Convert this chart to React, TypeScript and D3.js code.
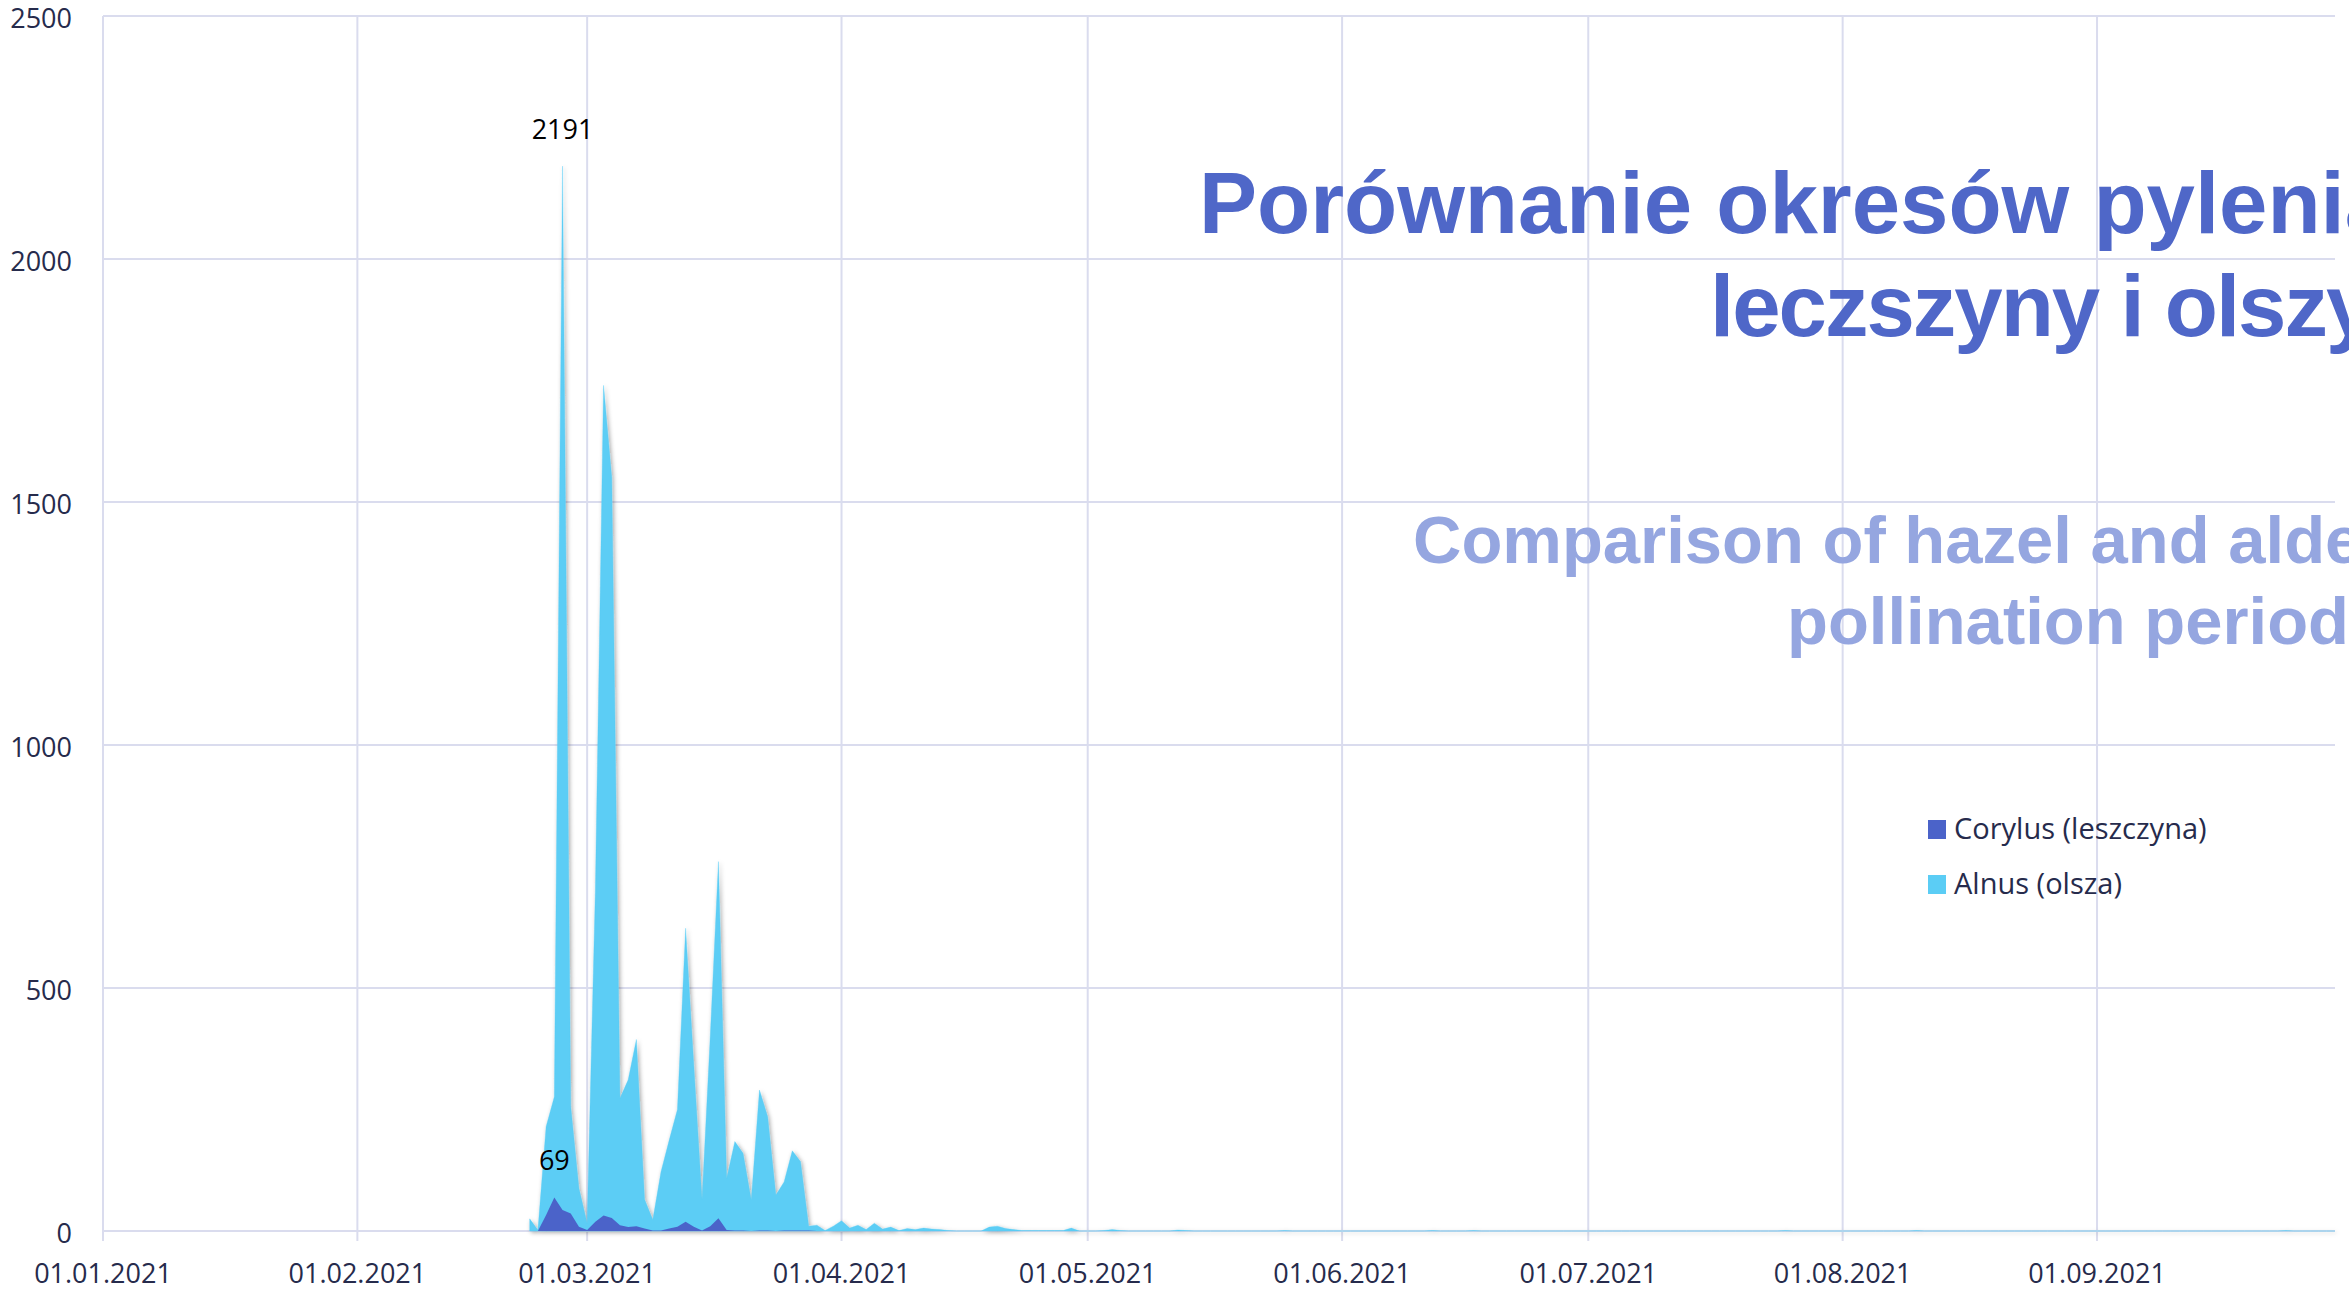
import React from 'react';
import * as d3 from 'd3';

// ---------- data ----------
const seriesStart = '2021-02-22';
const axisStart = '2021-01-01';
const axisEnd = '2021-09-30';

const monthTicks = [
  '2021-01-01', '2021-02-01', '2021-03-01', '2021-04-01', '2021-05-01',
  '2021-06-01', '2021-07-01', '2021-08-01', '2021-09-01',
];
const yTicks = [0, 500, 1000, 1500, 2000, 2500];

// Alnus (olsza) daily values, 22.02 - 30.09
const alnusFeb = [25, 2, 215, 276, 2191, 256, 88];
const alnusMar = [16, 700, 1740, 1550, 273, 311, 394, 65, 23, 122, 187, 250, 623, 340, 64, 400, 760, 108, 184, 160, 64, 290, 235, 74, 101, 165, 143, 10, 12, 1, 10];
const alnusApr = [21, 6, 12, 3, 16, 4, 8, 1, 5, 3, 6, 4, 3, 1, 0, 0, 0, 0, 8, 10, 5, 3, 1, 1, 1, 1, 1, 1, 6, 0];
const alnusMay = [0, 0, 1, 3, 1, 0, 0, 0, 0, 0, 0, 2, 1, 0, 0, 0, 0, 0, 0, 0, 0, 0, 0, 0, 1, 0, 0, 0, 0, 0, 0];
const alnusJun = [0, 0, 0, 0, 0, 0, 0, 0, 0, 0, 0, 1, 0, 0, 0, 0, 1, 0, 0, 0, 0, 0, 0, 0, 0, 0, 0, 0, 0, 0];
const alnusJul = [0, 0, 0, 0, 0, 0, 0, 0, 0, 0, 0, 0, 0, 0, 0, 0, 0, 0, 0, 0, 0, 0, 0, 0, 1, 0, 0, 0, 0, 0, 0];
const alnusAug = [0, 0, 0, 0, 0, 0, 0, 0, 0, 1, 0, 0, 0, 0, 0, 0, 0, 0, 0, 0, 0, 0, 0, 0, 0, 0, 0, 0, 0, 0, 0];
const alnusSep = [0, 0, 0, 0, 0, 0, 0, 0, 0, 0, 0, 0, 0, 0, 0, 0, 0, 0, 0, 0, 0, 0, 0, 1, 0, 0, 0, 0, 0, 0];

// Corylus (leszczyna) daily values, 22.02 - 30.09
const corylusFeb = [0, 0, 33, 69, 43, 36, 9];
const corylusMar = [2, 19, 32, 27, 12, 8, 10, 5, 1, 1, 5, 9, 19, 9, 1, 10, 26, 2, 1, 1, 0, 1, 1, 0, 1, 1, 1, 1, 0, 0, 0];
const corylusApr = [0, 0, 0, 0, 0, 0, 0, 0, 0, 0, 0, 0, 0, 0, 0, 0, 0, 0, 0, 0, 0, 0, 0, 0, 0, 0, 0, 0, 0, 0];
const corylusMay = [0, 0, 0, 0, 0, 0, 0, 0, 0, 0, 0, 0, 0, 0, 0, 0, 0, 0, 0, 0, 0, 0, 0, 0, 0, 0, 0, 0, 0, 0, 0];
const corylusJun = [0, 0, 0, 0, 0, 0, 0, 0, 0, 0, 0, 0, 0, 0, 0, 0, 0, 0, 0, 0, 0, 0, 0, 0, 0, 0, 0, 0, 0, 0];
const corylusJul = [0, 0, 0, 0, 0, 0, 0, 0, 0, 0, 0, 0, 0, 0, 0, 0, 0, 0, 0, 0, 0, 0, 0, 0, 0, 0, 0, 0, 0, 0, 0];
const corylusAug = [0, 0, 0, 0, 0, 0, 0, 0, 0, 0, 0, 0, 0, 0, 0, 0, 0, 0, 0, 0, 0, 0, 0, 0, 0, 0, 0, 0, 0, 0, 0];
const corylusSep = [0, 0, 0, 0, 0, 0, 0, 0, 0, 0, 0, 0, 0, 0, 0, 0, 0, 0, 0, 0, 0, 0, 0, 0, 0, 0, 0, 0, 0, 0];

const seriesNames = ['Corylus (leszczyna)', 'Alnus (olsza)'];
const seriesColors = ['#4B63C9', '#5BCDF5'];
const titleLines = ['Porównanie okresów pylenia', 'leczszyny i olszy'];
const subtitleLines = ['Comparison of hazel and alder', 'pollination periods'];

// ---------- layout ----------
const W = 2349;
const H = 1290;
const M = { left: 103, right: 2335, top: 16, bottom: 1231 };

const tickFont = '"Open Sans", "Noto Sans", sans-serif';
const titleFont = '"Liberation Sans", Arial, sans-serif';
const textColor = '#262B4C';
const gridColor = '#DADCEE';

const titleStarts = [1199, 1710];
const titleSpacing = [0, -2];
const subtitleStarts = [1413, 1787];

export default function App() {
  const parse = d3.utcParse('%Y-%m-%d');
  const fmt = d3.utcFormat('%d.%m.%Y');
  const start = parse(seriesStart)!;

  const alnusVals = [...alnusFeb, ...alnusMar, ...alnusApr, ...alnusMay, ...alnusJun, ...alnusJul, ...alnusAug, ...alnusSep];
  const corylusVals = [...corylusFeb, ...corylusMar, ...corylusApr, ...corylusMay, ...corylusJun, ...corylusJul, ...corylusAug, ...corylusSep];

  const toPoints = (vals: number[]) => vals.map((v, i) => ({ date: d3.utcDay.offset(start, i), value: v }));
  const alnus = toPoints(alnusVals);
  const corylus = toPoints(corylusVals);

  const x = d3.scaleUtc().domain([parse(axisStart)!, parse(axisEnd)!]).range([M.left, M.right]);
  const y = d3.scaleLinear().domain([0, 2500]).range([M.bottom, M.top]);

  const area = d3
    .area<{ date: Date; value: number }>()
    .x((d) => x(d.date))
    .y0(y(0))
    .y1((d) => y(d.value));

  const maxOf = (pts: { date: Date; value: number }[]) => pts.reduce((a, b) => (b.value > a.value ? b : a));
  const peakLabels = [maxOf(alnus), maxOf(corylus)];

  return (
    <svg
      width={W}
      height={H}
      style={{ position: 'absolute', left: 0, top: 0, background: '#fff', display: 'block' }}
    >
      <defs>
        <filter id="shadow" filterUnits="userSpaceOnUse" x={0} y={0} width={W} height={H}>
          <feDropShadow dx={1.5} dy={1.5} stdDeviation={2} floodColor="#000" floodOpacity={0.35} />
        </filter>
      </defs>

      {/* grid */}
      <g>
        {yTicks.map((t) => (
          <line key={'h' + t} x1={M.left} x2={M.right} y1={y(t)} y2={y(t)} stroke={gridColor} strokeWidth={2} />
        ))}
        {monthTicks.map((m) => {
          const xx = x(parse(m)!);
          return <line key={'v' + m} x1={xx} x2={xx} y1={M.top} y2={M.bottom + 10} stroke={gridColor} strokeWidth={2} />;
        })}
      </g>

      {/* areas */}
      <g filter="url(#shadow)">
        <path
          d={area(alnus)!}
          fill={seriesColors[1]}
          stroke={seriesColors[1]}
          strokeWidth={0.35}
          strokeMiterlimit={200}
          strokeLinejoin="miter"
        />
        <path d={area(corylus)!} fill={seriesColors[0]} />
      </g>

      {/* y labels */}
      <g fontFamily={tickFont} fontSize={27} fill={textColor} textAnchor="end">
        {yTicks.map((t) => (
          <text key={'yl' + t} x={72} y={y(t) + 12}>
            {t}
          </text>
        ))}
      </g>

      {/* x labels */}
      <g fontFamily={tickFont} fontSize={27} fill={textColor} textAnchor="middle">
        {monthTicks.map((m) => (
          <text key={'xl' + m} x={x(parse(m)!)} y={1283}>
            {fmt(parse(m)!)}
          </text>
        ))}
      </g>

      {/* data labels */}
      <g fontFamily={tickFont} fontSize={27} fill="#000" textAnchor="middle">
        {peakLabels.map((p, i) => (
          <text key={'dl' + i} x={x(p.date)} y={y(p.value) - 27}>
            {p.value}
          </text>
        ))}
      </g>

      {/* legend */}
      <g fontFamily={tickFont} fontSize={29} fill={textColor}>
        {seriesNames.map((n, i) => (
          <g key={n} transform={`translate(1928, ${820 + i * 55})`}>
            <rect x={0} y={0} width={18} height={19} fill={seriesColors[i]} />
            <text x={26} y={19}>
              {n}
            </text>
          </g>
        ))}
      </g>

      {/* titles */}
      <g fontFamily={titleFont} fontWeight="bold" textAnchor="start">
        {titleLines.map((t, i) => (
          <text
            key={t}
            x={titleStarts[i]}
            y={233 + i * 103}
            fontSize={87}
            fill="#4F67C8"
            letterSpacing={titleSpacing[i]}
          >
            {t}
          </text>
        ))}
        {subtitleLines.map((t, i) => (
          <text key={t} x={subtitleStarts[i]} y={563 + i * 81} fontSize={67} fill="#95A6E0">
            {t}
          </text>
        ))}
      </g>
    </svg>
  );
}
